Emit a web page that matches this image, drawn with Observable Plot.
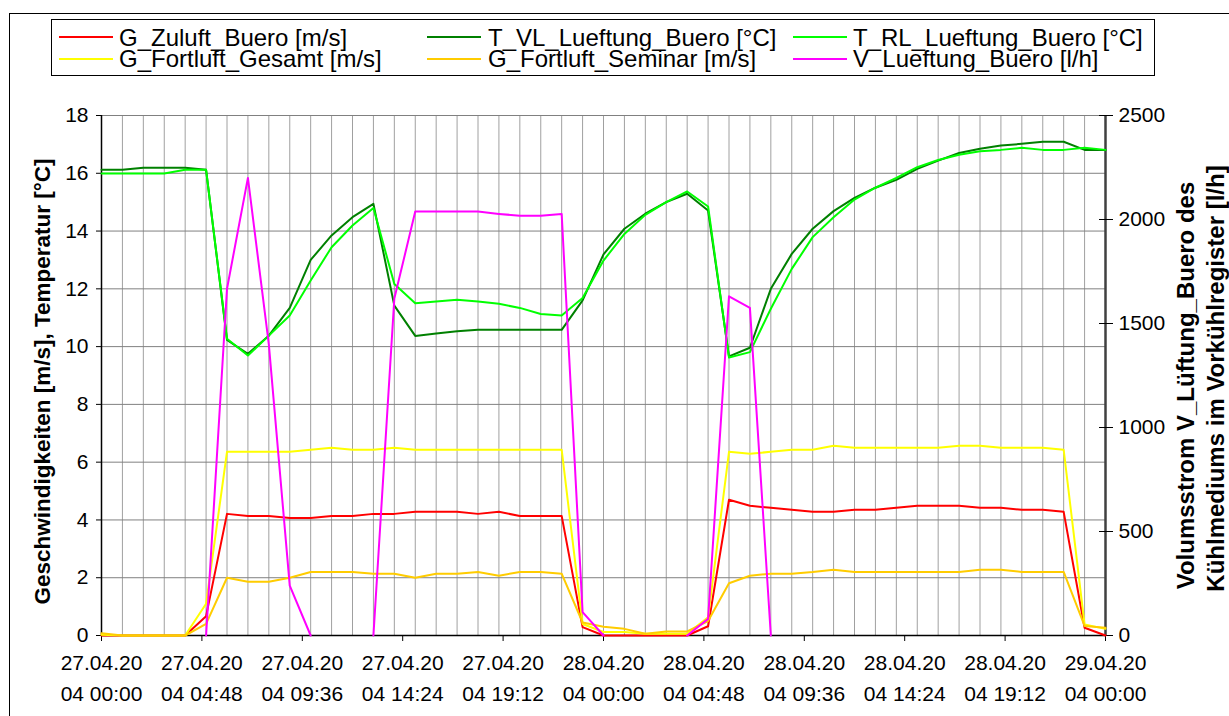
<!DOCTYPE html>
<html>
<head>
<meta charset="utf-8">
<script src="https://cdn.jsdelivr.net/npm/d3@7"></script>
<script src="https://cdn.jsdelivr.net/npm/@observablehq/plot@0.6"></script>
<style>
  html, body { margin: 0; padding: 0; background: #fff; }
  body { width: 1229px; height: 716px; overflow: hidden; position: relative;
         font-family: "Liberation Sans", Arial, sans-serif; }
  #frame { position: absolute; left: 9px; top: 13px; width: 1240px; height: 760px;
           border: 1px solid #000; box-sizing: border-box; }
  #legend { position: absolute; left: 51px; top: 19px; width: 1104px; height: 57px;
            border: 1px solid #000; box-sizing: border-box; background: #fff; }
  .sw { position: absolute; width: 54px; height: 2px; }
  .lt { position: absolute; font-size: 24px; line-height: 20px; white-space: nowrap; color: #000; }
  #chart { position: absolute; left: 0; top: 0; }
</style>
</head>
<body>
<div id="frame"></div>
<div id="chart"></div>
<script>
// ---- Data (hourly values, 27.04.2004 00:00 .. 29.04.2004 00:00) ----
const hours = [0,1,2,3,4,5,6,7,8,9,10,11,12,13,14,15,16,17,18,19,20,21,22,23,24,
               25,26,27,28,29,30,31,32,33,34,35,36,37,38,39,40,41,42,43,44,45,46,47,48];

const G_Zuluft_Buero = [0,0,0,0,0,0.67,4.21,4.14,4.14,4.07,4.07,4.14,4.14,4.21,4.21,4.28,
  4.28,4.28,4.21,4.28,4.14,4.14,4.14,0.29,0,0,0,0,0,0.32,4.70,4.49,4.42,4.35,4.28,4.28,
  4.35,4.35,4.42,4.49,4.49,4.49,4.42,4.42,4.35,4.35,4.28,0.27,0];

const T_VL_Lueftung_Buero = [16.12,16.12,16.19,16.19,16.19,16.12,10.23,9.75,10.38,11.34,13.0,
  13.85,14.48,14.94,11.42,10.37,10.45,10.53,10.58,10.58,10.58,10.58,10.58,11.6,13.19,14.08,
  14.6,15.0,15.29,14.71,9.66,9.96,12.0,13.21,14.08,14.69,15.15,15.5,15.77,16.15,16.44,16.70,
  16.85,16.96,17.02,17.09,17.09,16.81,16.81];

const T_RL_Lueftung_Buero = [15.99,15.99,15.99,15.99,16.12,16.12,10.27,9.69,10.38,11.08,12.29,
  13.44,14.19,14.8,12.17,11.5,11.56,11.62,11.56,11.48,11.34,11.13,11.08,11.68,12.98,13.9,
  14.56,15.0,15.37,14.85,9.62,9.81,11.31,12.69,13.79,14.48,15.09,15.5,15.84,16.21,16.46,16.64,
  16.76,16.81,16.88,16.81,16.81,16.88,16.81];

const G_Fortluft_Gesamt = [0.03,0,0,0,0,1.10,6.36,6.36,6.36,6.36,6.43,6.50,6.43,6.43,6.50,6.43,
  6.43,6.43,6.43,6.43,6.43,6.43,6.43,0.40,0.12,0.12,0.06,0.06,0.06,0.63,6.36,6.29,6.36,6.43,
  6.43,6.57,6.50,6.50,6.50,6.50,6.50,6.57,6.57,6.50,6.50,6.50,6.43,0.38,0.23];

const G_Fortluft_Seminar = [0.08,0,0,0,0,0.40,2.0,1.86,1.86,2.0,2.2,2.2,2.2,2.14,2.14,2.0,
  2.14,2.14,2.2,2.07,2.2,2.2,2.14,0.45,0.30,0.23,0.06,0.14,0.14,0.50,1.81,2.07,2.14,2.14,
  2.2,2.28,2.2,2.2,2.2,2.2,2.2,2.2,2.28,2.28,2.2,2.2,2.2,0.33,0.27];

const V_Lueftung_Buero = [null,null,null,null,null,0,1667,2200,1400,240,0,null,null,0,1620,2038,
  2038,2038,2038,2027,2018,2018,2027,112,0,null,null,null,0,80,1631,1575,0,null,null,null,
  null,null,null,null,null,null,null,null,null,null,null,null,null];

const seriesNames = ["G_Zuluft_Buero [m/s]", "T_VL_Lueftung_Buero [°C]", "T_RL_Lueftung_Buero [°C]",
                     "G_Fortluft_Gesamt [m/s]", "G_Fortluft_Seminar [m/s]", "V_Lueftung_Buero [l/h]"];
const seriesColors = ["#ff0000", "#008000", "#00ff00", "#ffff00", "#ffcc00", "#ff00ff"];
const seriesValues = [G_Zuluft_Buero, T_VL_Lueftung_Buero, T_RL_Lueftung_Buero,
                      G_Fortluft_Gesamt, G_Fortluft_Seminar, V_Lueftung_Buero];
const seriesAxis = ["left", "left", "left", "left", "left", "right"];

const tickHours = [0, 4.8, 9.6, 14.4, 19.2, 24, 28.8, 33.6, 38.4, 43.2, 48];
const tickLine1 = ["27.04.20","27.04.20","27.04.20","27.04.20","27.04.20",
                   "28.04.20","28.04.20","28.04.20","28.04.20","28.04.20","29.04.20"];
const tickLine2 = ["04 00:00","04 04:48","04 09:36","04 14:24","04 19:12",
                   "04 00:00","04 04:48","04 09:36","04 14:24","04 19:12","04 00:00"];
const leftTicks = [0,2,4,6,8,10,12,14,16,18];
const rightTicks = [0,500,1000,1500,2000,2500];
const leftMax = 18, rightMax = 2500;
const leftTitle = "Geschwindigkeiten [m/s], Temperatur [°C]";
const rightTitle1 = "Volumsstrom V_Lüftung_Buero des";
const rightTitle2 = "Kühlmediums im Vorkühlregister [l/h]";

// ---- Build ----
const k = leftMax / rightMax; // right axis values mapped onto left scale
const rows = [];
seriesNames.forEach((name, s) => {
  seriesValues[s].forEach((v, i) => {
    rows.push({h: hours[i], s, v: v == null ? NaN : (seriesAxis[s] === "right" ? v * k : v)});
  });
});

const lineMarks = seriesNames.map((name, s) =>
  Plot.line(rows.filter(r => r.s === s), {x: "h", y: "v", stroke: seriesColors[s], strokeWidth: 2})
);

const chart = Plot.plot({
  width: 1229, height: 716,
  marginLeft: 101, marginRight: 124, marginTop: 115, marginBottom: 81,
  x: {domain: [0, 48]},
  y: {domain: [0, leftMax]},
  style: {fontFamily: '"Liberation Sans", Arial, sans-serif', fontSize: "21px", color: "#000", background: "transparent", overflow: "visible"},
  marks: [
    Plot.gridX(hours, {stroke: "#a0a0a0", strokeOpacity: 1, strokeWidth: 1}),
    Plot.gridY(leftTicks, {stroke: "#808080", strokeOpacity: 1, strokeWidth: 1}),
    Plot.ruleX([0], {stroke: "#000", strokeWidth: 1.5}),
    Plot.ruleX([48], {stroke: "#404040", strokeWidth: 2.5}),
    Plot.ruleY([0], {stroke: "#000", strokeWidth: 1.5}),
    Plot.axisY(leftTicks, {anchor: "left", tickSize: 5, tickPadding: 8, label: null, fontSize: 21}),
    Plot.axisY(rightTicks.map(v => v * k), {anchor: "right", tickSize: 7, tickPadding: 6, label: null,
      fontSize: 21, tickFormat: d => String(Math.round(d / k))}),
    Plot.axisY(rightTicks.map(v => v * k), {anchor: "right", tickSize: -7, label: null, tickFormat: () => ""}),
    Plot.axisX(tickHours, {anchor: "bottom", tickSize: 6, label: null, tickFormat: () => ""}),
    Plot.text(tickHours, {x: d => d, text: (d, i) => tickLine1[i], frameAnchor: "bottom", dy: 34, fontSize: 21}),
    Plot.text(tickHours, {x: d => d, text: (d, i) => tickLine2[i], frameAnchor: "bottom", dy: 65, fontSize: 21}),
    Plot.text([leftTitle], {frameAnchor: "left", textAnchor: "middle", rotate: -90, dx: -59, dy: 6,
      fontSize: 22.5, fontWeight: "bold"}),
    Plot.text([rightTitle1], {frameAnchor: "right", textAnchor: "middle", rotate: -90, dx: 81, dy: 10,
      fontSize: 24, fontWeight: "bold"}),
    Plot.text([rightTitle2], {frameAnchor: "right", textAnchor: "middle", rotate: -90, dx: 111, dy: 3,
      fontSize: 24, fontWeight: "bold"}),
    ...lineMarks
  ]
});
document.getElementById("chart").appendChild(chart);

// ---- Legend (HTML, row-major like the original) ----
const legendBox = document.createElement("div");
legendBox.id = "legend";
document.body.appendChild(legendBox);
const colSwatchX = [59, 427, 793];
const colTextX = [119, 488, 853];
const rowSwatchY = [37, 59];
const rowTextTop = [27.5, 48.5];
seriesNames.forEach((name, s) => {
  const col = s % 3, row = Math.floor(s / 3);
  const sw = document.createElement("div");
  sw.className = "sw";
  sw.style.left = colSwatchX[col] + "px";
  sw.style.top = (rowSwatchY[row] - 1) + "px";
  sw.style.background = seriesColors[s];
  document.body.appendChild(sw);
  const t = document.createElement("div");
  t.className = "lt";
  t.style.left = colTextX[col] + "px";
  t.style.top = rowTextTop[row] + "px";
  t.textContent = name;
  document.body.appendChild(t);
});
</script>
</body>
</html>
